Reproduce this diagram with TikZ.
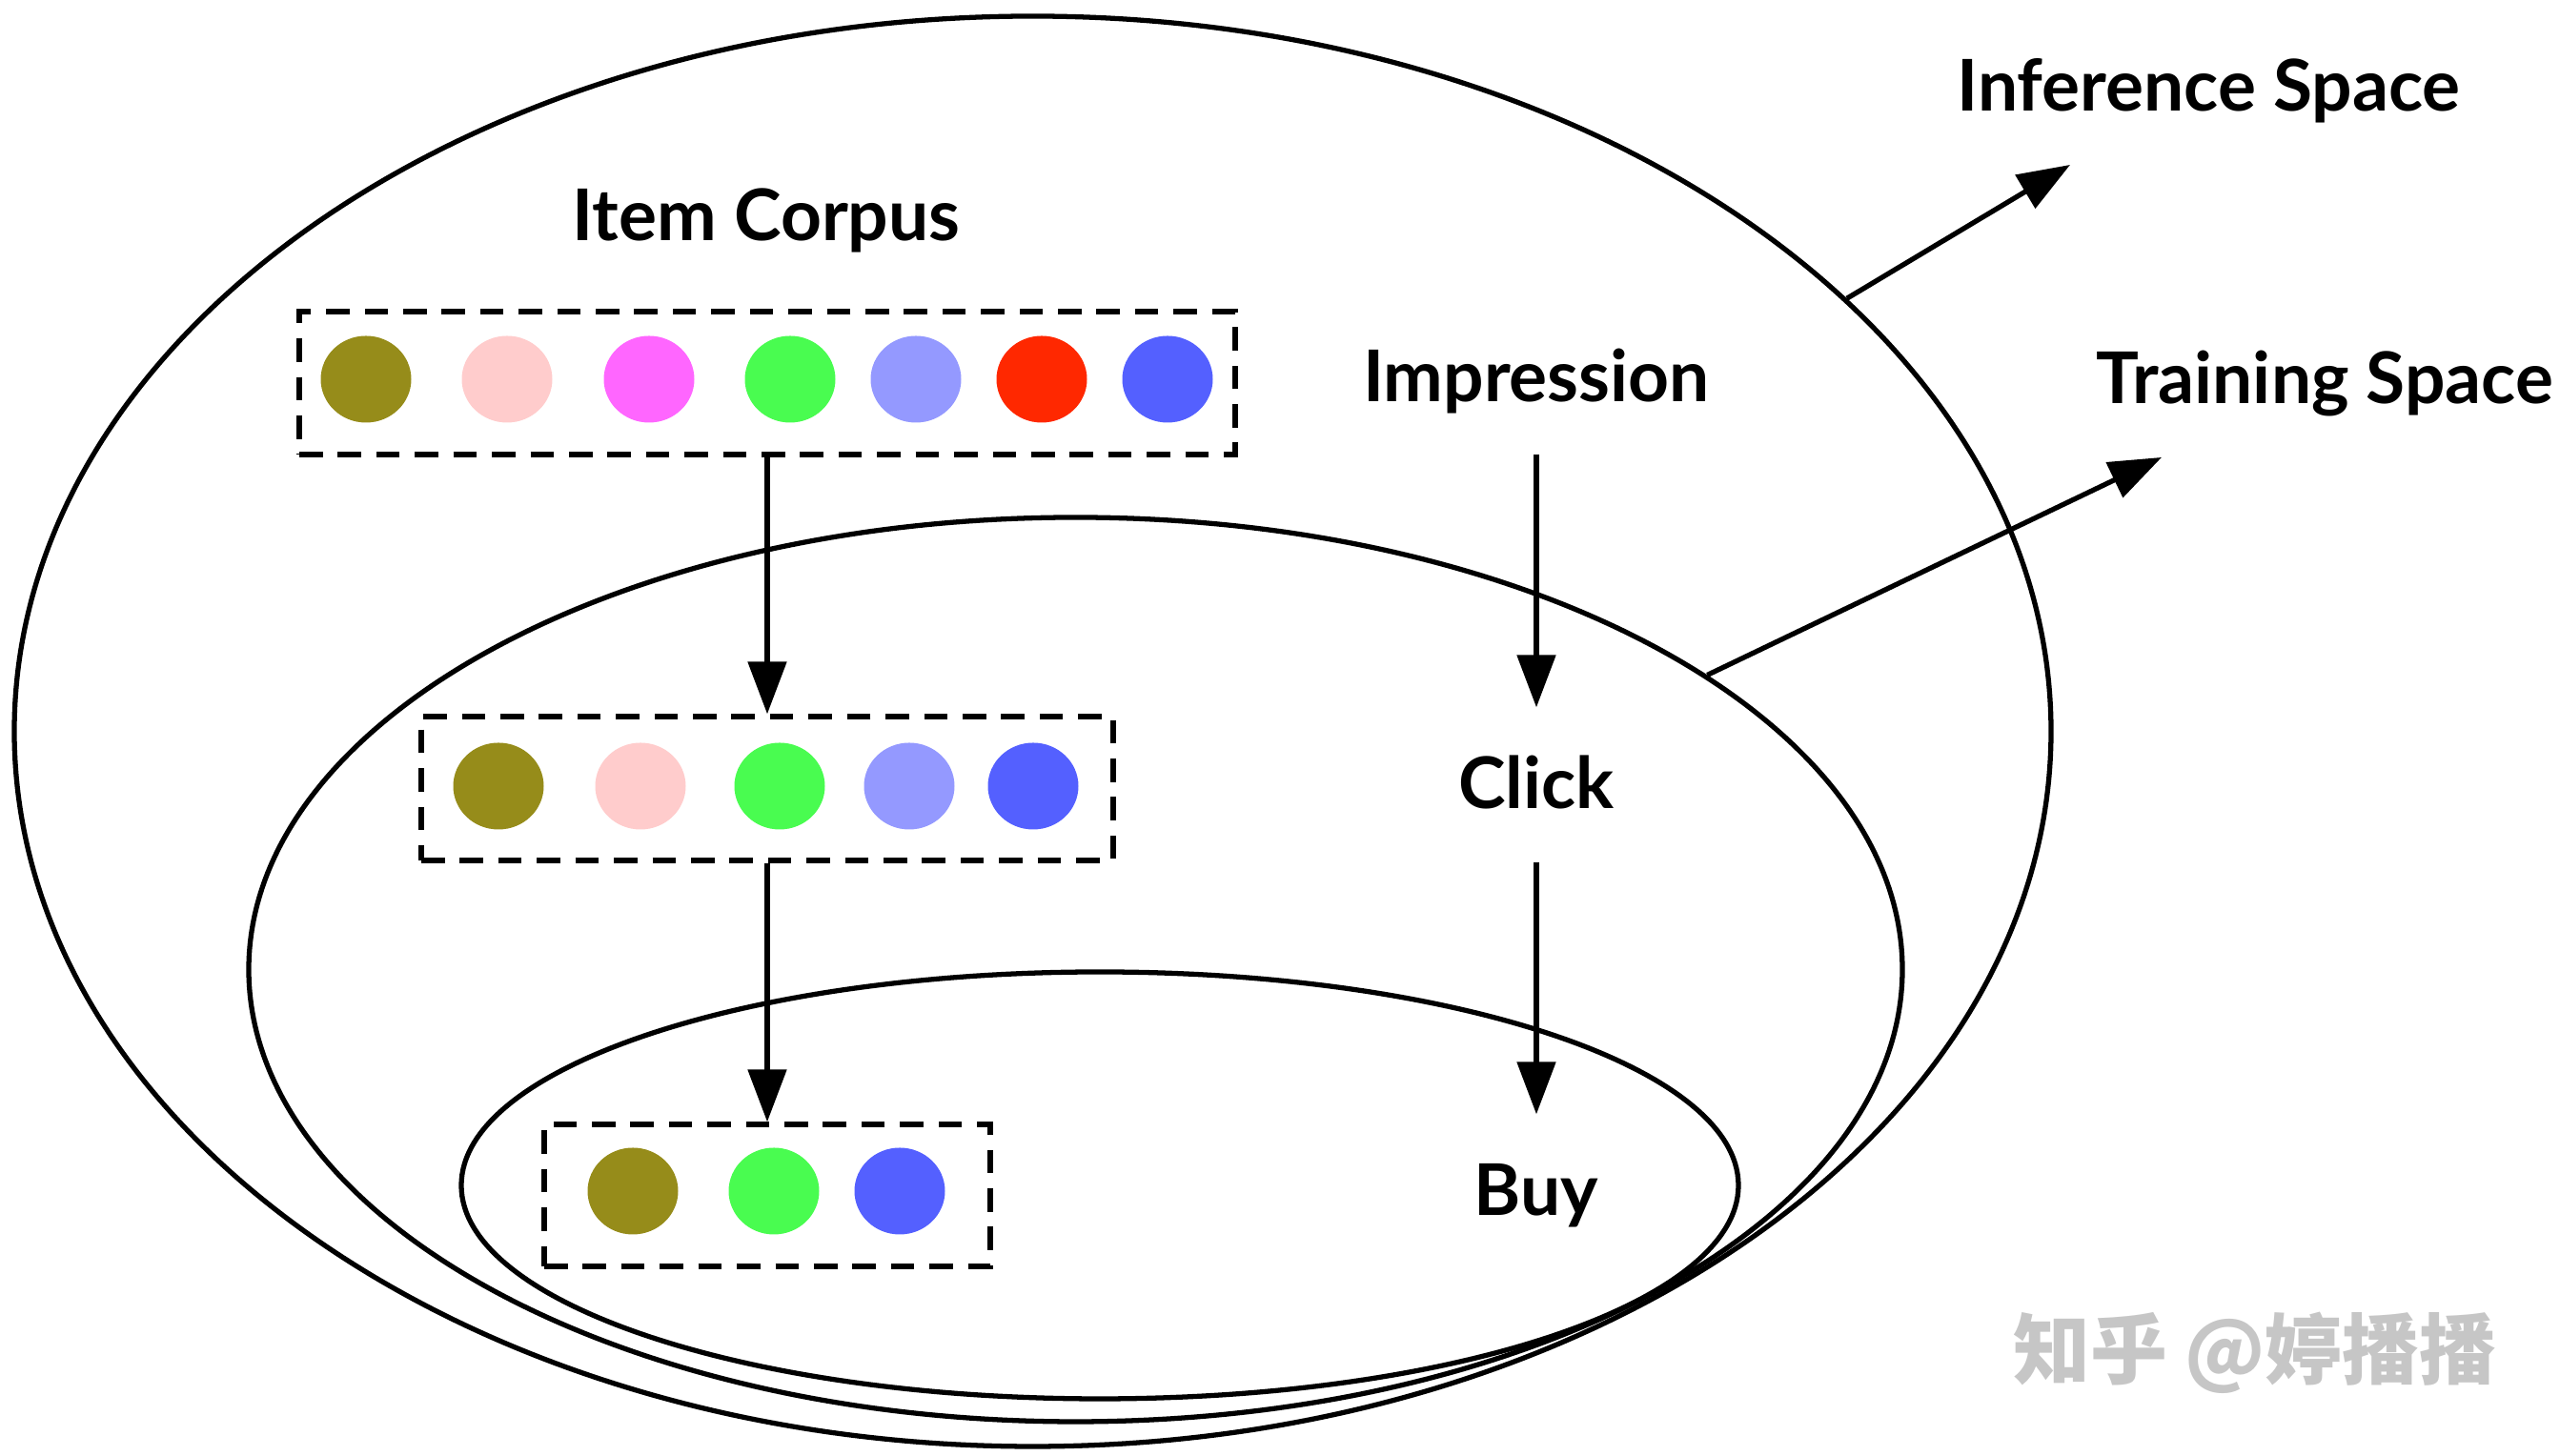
\documentclass[tikz,border=0pt]{standalone}
\usepackage{fontspec}
\setmainfont{Lato}
\newfontfamily\cjkfont{Noto Sans CJK SC}
\usetikzlibrary{arrows.meta,shapes.geometric}
\definecolor{itemolive}{RGB}{150,140,26}
\definecolor{itempink}{RGB}{255,204,204}
\definecolor{itemmagenta}{RGB}{255,102,255}
\definecolor{itemgreen}{RGB}{73,252,80}
\definecolor{itemlavender}{RGB}{148,153,255}
\definecolor{itemred}{RGB}{255,40,0}
\definecolor{itemblue}{RGB}{84,96,255}

\begin{document}
\begin{tikzpicture}[-{Triangle[length=5.5mm,width=4mm]}, line width=1.5pt,
   space/.style={draw, ellipse, inner sep=0pt},
   itemset/.style={draw, dash pattern=on 7pt off 4.5pt, inner sep=0pt},
   item/.style={ellipse, inner sep=0pt, minimum width=0.95cm, minimum height=0.91cm},
   lbl/.style={font=\fontsize{21.3}{25}\selectfont\bfseries, inner sep=0pt},
   stagelbl/.style={lbl, text height=0.51cm, text depth=0pt, inner xsep=0pt, inner ysep=0.53cm}]
   \useasboundingbox (0,0) rectangle (26.86,15.28);
   % spaces
   \node[space, minimum width=21.37cm, minimum height=15.01cm] (infsp) at (10.835,7.605) {};
   \node[space, minimum width=17.35cm, minimum height=9.49cm] (trsp) at (11.285,5.105) {};
   \node[space, minimum width=13.40cm, minimum height=4.48cm] (buysp) at (11.54,2.84) {};
   % item sets
   \node[itemset, minimum width=9.82cm, minimum height=1.50cm] (corpus) at (8.05,11.26) {};
   \node[itemset, minimum width=7.26cm, minimum height=1.51cm] (clickset) at (8.05,7.005) {};
   \node[itemset, minimum width=4.68cm, minimum height=1.49cm] (buyset) at (8.05,2.735) {};
   \node[item, fill=itemolive] (c1) at (3.84,11.30) {};
   \node[item, fill=itempink] (c2) at (5.32,11.30) {};
   \node[item, fill=itemmagenta] (c3) at (6.81,11.30) {};
   \node[item, fill=itemgreen] (c4) at (8.29,11.30) {};
   \node[item, fill=itemlavender] (c5) at (9.61,11.30) {};
   \node[item, fill=itemred] (c6) at (10.93,11.30) {};
   \node[item, fill=itemblue] (c7) at (12.25,11.30) {};
   \node[item, fill=itemolive] (k1) at (5.23,7.03) {};
   \node[item, fill=itempink] (k2) at (6.72,7.03) {};
   \node[item, fill=itemgreen] (k3) at (8.18,7.03) {};
   \node[item, fill=itemlavender] (k4) at (9.54,7.03) {};
   \node[item, fill=itemblue] (k5) at (10.84,7.03) {};
   \node[item, fill=itemolive] (b1) at (6.64,2.78) {};
   \node[item, fill=itemgreen] (b2) at (8.12,2.78) {};
   \node[item, fill=itemblue] (b3) at (9.44,2.78) {};
   % labels
   \node[lbl, anchor=base] (corplbl) at (8.04,12.75) {Item Corpus};
   \node[lbl, anchor=base] (inflbl) at (23.175,14.11) {Inference Space};
   \node[lbl, anchor=base] (trlbl) at (24.395,11.04) {Training Space};
   \node[stagelbl] (imp) at (16.12,11.32) {Impression};
   \node[stagelbl] (click) at (16.12,7.045) {Click};
   \node[stagelbl] (buy) at (16.12,2.775) {Buy};
   \node[font=\cjkfont\bfseries\fontsize{23}{26}\selectfont, text=gray!45, inner sep=0pt] (mark) at (23.66,1.08) {知乎 @婷播播};
   % arrows
   \coordinate (inftip) at (21.72,13.55);
   \coordinate (trtip) at (22.68,10.48);
   \draw (corpus) -- (clickset);
   \draw (clickset) -- (buyset);
   \draw (imp) -- (click);
   \draw (click) -- (buy);
   \draw (infsp.28.6) -- (inftip);
   \draw (trsp.25.3) -- (trtip);
\end{tikzpicture}
\end{document}
